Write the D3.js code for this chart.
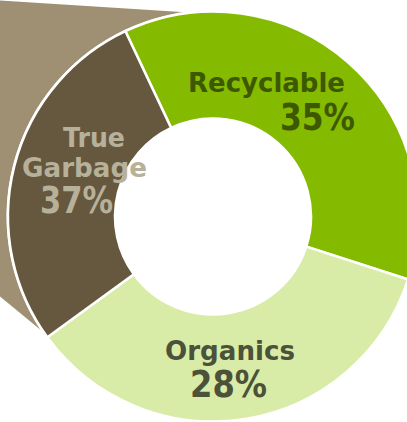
<!DOCTYPE html>
<html>
<head>
<meta charset="utf-8">
<script src="https://cdn.jsdelivr.net/npm/d3@7"></script>
<style>
html,body{margin:0;padding:0;background:#fff;}
svg{display:block;}
text{font-family:"DejaVu Sans",sans-serif;font-weight:bold;}
</style>
</head>
<body>
<svg id="chart" width="407" height="422"></svg>
<script>
// Data
const categories = ["Recyclable", "Organics", "True Garbage"];
const sliceShares = [37, 35, 28];          // drawn arc sizes (%)
const percentLabels = ["35%", "28%", "37%"]; // printed labels
const sliceColors = ["#84bb00", "#d8eca7", "#66573f"];
const nameColors = ["#3d5800", "#4b5239", "#b7b19a"];

const W = 407, H = 422;
const cx = 213, cy = 216.5;
const outerR = 205, innerR = 98;
const startDeg = -25.3;

const svg = d3.select("#chart");

// tan projection wedge behind donut
const wedge = [[0, 0.5], [213, 14], [cx, cy], [48, 336], [0, 296.5]];
svg.append("path")
  .attr("d", d3.line()(wedge) + "Z")
  .attr("fill", "#a09073");

const g = svg.append("g").attr("transform", `translate(${cx},${cy})`);

g.append("circle").attr("r", outerR + 1.5).attr("fill", "#fff");

const pie = d3.pie().sort(null)
  .startAngle(startDeg * Math.PI / 180)
  .endAngle((startDeg + 360) * Math.PI / 180);
const arc = d3.arc().innerRadius(innerR).outerRadius(outerR);

const arcs = pie(sliceShares);
g.selectAll("path.slice").data(arcs).enter().append("path")
  .attr("class", "slice")
  .attr("d", arc)
  .attr("fill", (d, i) => sliceColors[i])
  .attr("stroke", "#fff")
  .attr("stroke-width", 2.5)
  .attr("stroke-linejoin", "miter");

// label layout: [lines], positions (x start, baseline, width, size)
const labelLayout = [
  { lines: [{t: categories[0], x: 188, y: 92, w: 157, s: 27},
            {t: percentLabels[0], x: 280, y: 130, w: 75, s: 38}] },
  { lines: [{t: categories[1], x: 165, y: 360, w: 130, s: 27},
            {t: percentLabels[1], x: 190, y: 397, w: 77, s: 38}] },
  { lines: [{t: "True", x: 63, y: 147, w: 62, s: 27},
            {t: "Garbage", x: 22, y: 177, w: 125, s: 27},
            {t: percentLabels[2], x: 40, y: 213, w: 73, s: 38}] }
];

labelLayout.forEach((lab, i) => {
  lab.lines.forEach(l => {
    svg.append("text")
      .attr("x", l.x).attr("y", l.y)
      .attr("font-size", l.s)
      .attr("textLength", l.w)
      .attr("lengthAdjust", "spacingAndGlyphs")
      .attr("fill", nameColors[i])
      .text(l.t);
  });
});
</script>
</body>
</html>
